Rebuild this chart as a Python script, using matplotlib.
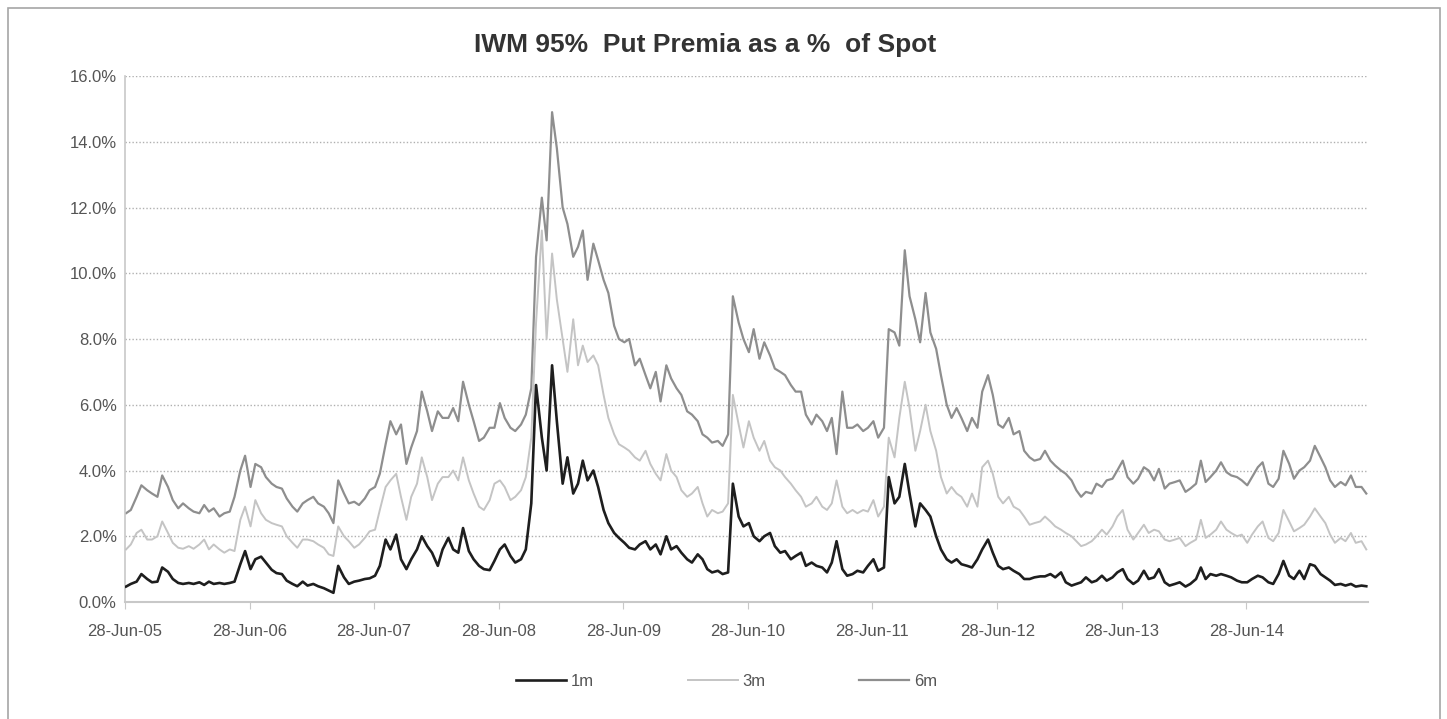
import matplotlib
matplotlib.use("Agg")
import matplotlib.pyplot as plt
import matplotlib.dates as mdates
import matplotlib.ticker as mticker
from matplotlib.patches import Rectangle
import pandas as pd

# semi-monthly observations, Jul-2005 .. Jun-2015 (values in % of spot)
dates = pd.date_range("2005-07-01", "2015-06-15", freq="SMS")

put_1m = [
    0.47, 0.55, 0.62, 0.85, 0.70, 0.60, 0.62, 1.05, 0.92, 0.70, 0.58, 0.55, 0.58, 0.55, 0.60, 0.52, 0.62, 0.55, 0.58, 0.55, 0.58, 0.62, 1.15, 1.55,
    1.00, 1.30, 1.38, 1.20, 0.98, 0.88, 0.85, 0.65, 0.55, 0.48, 0.62, 0.50, 0.55, 0.48, 0.42, 0.35, 0.28, 1.10, 0.75, 0.55, 0.62, 0.65, 0.70, 0.72,
    0.80, 1.10, 1.90, 1.60, 2.05, 1.30, 1.00, 1.30, 1.60, 2.00, 1.70, 1.50, 1.10, 1.60, 1.95, 1.60, 1.50, 2.25, 1.55, 1.30, 1.10, 1.00, 0.97, 1.25,
    1.60, 1.75, 1.40, 1.20, 1.30, 1.60, 3.00, 6.60, 5.00, 4.00, 7.20, 5.50, 3.60, 4.40, 3.30, 3.60, 4.30, 3.70, 4.00, 3.50, 2.80, 2.40, 2.10, 1.95,
    1.80, 1.65, 1.60, 1.75, 1.85, 1.60, 1.75, 1.45, 2.00, 1.60, 1.70, 1.50, 1.30, 1.20, 1.45, 1.30, 1.00, 0.90, 0.95, 0.85, 0.90, 3.60, 2.60, 2.30,
    2.40, 2.00, 1.85, 2.00, 2.10, 1.70, 1.50, 1.55, 1.30, 1.40, 1.50, 1.10, 1.20, 1.10, 1.05, 0.90, 1.20, 1.85, 1.00, 0.80, 0.85, 0.95, 0.90, 1.10,
    1.30, 0.95, 1.05, 3.80, 3.00, 3.20, 4.20, 3.30, 2.30, 3.00, 2.80, 2.60, 2.00, 1.60, 1.30, 1.20, 1.30, 1.15, 1.10, 1.05, 1.30, 1.60, 1.90, 1.50,
    1.10, 1.00, 1.05, 0.95, 0.85, 0.70, 0.70, 0.75, 0.78, 0.78, 0.85, 0.75, 0.90, 0.60, 0.50, 0.55, 0.60, 0.75, 0.60, 0.65, 0.80, 0.65, 0.75, 0.90,
    1.00, 0.70, 0.55, 0.65, 0.95, 0.70, 0.75, 1.00, 0.60, 0.50, 0.55, 0.60, 0.47, 0.55, 0.70, 1.05, 0.70, 0.85, 0.80, 0.85, 0.80, 0.75, 0.65, 0.60,
    0.60, 0.70, 0.80, 0.75, 0.60, 0.55, 0.85, 1.25, 0.80, 0.70, 0.95, 0.70, 1.15, 1.10, 0.85, 0.75, 0.65, 0.52, 0.55, 0.50, 0.55, 0.47, 0.50, 0.48,
]

put_3m = [
    1.60, 1.75, 2.10, 2.20, 1.90, 1.90, 2.00, 2.45, 2.10, 1.80, 1.65, 1.62, 1.70, 1.62, 1.75, 1.90, 1.60, 1.75, 1.60, 1.50, 1.60, 1.55, 2.50, 2.90,
    2.30, 3.10, 2.70, 2.50, 2.40, 2.35, 2.30, 2.00, 1.80, 1.65, 1.90, 1.90, 1.85, 1.75, 1.65, 1.45, 1.40, 2.30, 2.00, 1.85, 1.65, 1.75, 1.95, 2.15,
    2.20, 2.80, 3.50, 3.70, 3.90, 3.20, 2.50, 3.20, 3.60, 4.40, 3.80, 3.10, 3.60, 3.80, 3.80, 4.00, 3.70, 4.40, 3.70, 3.30, 2.90, 2.80, 3.10, 3.60,
    3.70, 3.50, 3.10, 3.20, 3.40, 3.80, 5.00, 8.50, 11.30, 8.00, 10.60, 9.20, 8.00, 7.00, 8.60, 7.20, 7.80, 7.30, 7.50, 7.20, 6.30, 5.60, 5.10, 4.80,
    4.70, 4.60, 4.40, 4.30, 4.60, 4.20, 3.90, 3.70, 4.50, 4.00, 3.80, 3.40, 3.20, 3.30, 3.50, 3.00, 2.60, 2.80, 2.70, 2.75, 3.00, 6.30, 5.40, 4.70,
    5.50, 5.00, 4.60, 4.90, 4.30, 4.10, 4.00, 3.80, 3.60, 3.40, 3.20, 2.90, 3.00, 3.20, 2.90, 2.80, 3.00, 3.70, 2.90, 2.70, 2.80, 2.70, 2.80, 2.75,
    3.10, 2.60, 2.90, 5.00, 4.40, 5.60, 6.70, 5.90, 4.60, 5.20, 6.00, 5.20, 4.60, 3.80, 3.30, 3.50, 3.30, 3.20, 2.90, 3.30, 2.90, 4.10, 4.30, 3.90,
    3.20, 3.00, 3.20, 2.90, 2.80, 2.60, 2.35, 2.40, 2.45, 2.60, 2.45, 2.30, 2.20, 2.10, 2.00, 1.85, 1.70, 1.75, 1.85, 2.00, 2.20, 2.05, 2.30, 2.60,
    2.80, 2.20, 1.90, 2.10, 2.35, 2.10, 2.20, 2.15, 1.90, 1.85, 1.90, 1.95, 1.70, 1.80, 1.90, 2.50, 1.95, 2.05, 2.20, 2.45, 2.20, 2.10, 2.00, 2.05,
    1.80, 2.05, 2.30, 2.45, 1.95, 1.85, 2.10, 2.80, 2.45, 2.15, 2.25, 2.35, 2.60, 2.85, 2.60, 2.40, 2.05, 1.80, 1.95, 1.85, 2.10, 1.80, 1.85, 1.60,
]

put_6m = [
    2.70, 2.80, 3.20, 3.55, 3.40, 3.30, 3.20, 3.85, 3.50, 3.10, 2.85, 3.00, 2.85, 2.75, 2.70, 2.95, 2.75, 2.85, 2.60, 2.70, 2.75, 3.20, 4.00, 4.45,
    3.50, 4.20, 4.10, 3.80, 3.60, 3.50, 3.45, 3.15, 2.90, 2.75, 3.00, 3.10, 3.20, 3.00, 2.90, 2.70, 2.40, 3.70, 3.30, 3.00, 3.05, 2.95, 3.15, 3.40,
    3.50, 3.90, 4.80, 5.50, 5.10, 5.40, 4.20, 4.70, 5.20, 6.40, 5.80, 5.20, 5.80, 5.60, 5.60, 5.90, 5.50, 6.70, 6.00, 5.50, 4.90, 5.00, 5.30, 5.30,
    6.05, 5.60, 5.30, 5.20, 5.40, 5.70, 6.50, 10.50, 12.30, 11.00, 14.90, 13.80, 12.00, 11.50, 10.50, 10.80, 11.30, 9.80, 10.90, 10.40, 9.80, 9.40, 8.40, 8.00,
    7.90, 8.00, 7.20, 7.40, 6.90, 6.50, 7.00, 6.10, 7.20, 6.80, 6.50, 6.30, 5.80, 5.70, 5.50, 5.10, 5.00, 4.85, 4.90, 4.75, 5.10, 9.30, 8.50, 8.00,
    7.60, 8.30, 7.40, 7.90, 7.50, 7.10, 7.00, 6.90, 6.60, 6.40, 6.40, 5.70, 5.40, 5.70, 5.50, 5.20, 5.60, 4.50, 6.40, 5.30, 5.30, 5.40, 5.20, 5.30,
    5.50, 5.00, 5.30, 8.30, 8.20, 7.80, 10.70, 9.30, 8.60, 7.90, 9.40, 8.20, 7.70, 6.90, 6.00, 5.60, 5.90, 5.60, 5.20, 5.60, 5.30, 6.40, 6.90, 6.30,
    5.40, 5.30, 5.60, 5.10, 5.20, 4.60, 4.40, 4.30, 4.35, 4.60, 4.30, 4.15, 4.00, 3.90, 3.70, 3.40, 3.20, 3.35, 3.30, 3.60, 3.50, 3.70, 3.75, 4.00,
    4.30, 3.80, 3.60, 3.75, 4.10, 4.00, 3.70, 4.05, 3.45, 3.60, 3.65, 3.70, 3.35, 3.45, 3.60, 4.30, 3.65, 3.80, 4.00, 4.25, 3.95, 3.85, 3.80, 3.70,
    3.55, 3.80, 4.10, 4.25, 3.60, 3.50, 3.75, 4.60, 4.20, 3.75, 4.00, 4.10, 4.30, 4.75, 4.40, 4.10, 3.70, 3.50, 3.65, 3.55, 3.85, 3.50, 3.50, 3.30,
]

tick_years = list(range(2005, 2015))
title = "IWM 95%  Put Premia as a %  of Spot"

plt.rcParams['font.family'] = ['Liberation Sans', 'DejaVu Sans']

fig = plt.figure(figsize=(14.47, 7.19), dpi=100)
ax = fig.add_axes([0.0864, 0.1627, 0.859, 0.7316])

# outer chart border
fig.patches.append(Rectangle((0.0055, -0.01), 0.9896, 0.999, transform=fig.transFigure,
                             fill=False, edgecolor="#a6a6a6", linewidth=1.2))

ax.plot(dates, [v / 100 for v in put_1m], color="#1e1e1e", linewidth=1.9, label="1m", zorder=4)
ax.plot(dates, [v / 100 for v in put_3m], color="#c4c4c4", linewidth=1.4, label="3m", zorder=3)
ax.plot(dates, [v / 100 for v in put_6m], color="#8e8e8e", linewidth=1.6, label="6m", zorder=2)

ax.set_ylim(0, 0.16)
ax.set_yticks([i * 0.02 for i in range(9)])
ax.yaxis.set_major_formatter(mticker.PercentFormatter(1.0, decimals=1))
ax.set_xlim(pd.Timestamp("2005-06-28"), pd.Timestamp("2015-06-20"))
ax.set_xticks([pd.Timestamp(f"{y}-06-28") for y in tick_years])
ax.xaxis.set_major_formatter(mdates.DateFormatter("%d-%b-%y"))

ax.grid(axis="y", color="#b0b0b0", linestyle=(0, (1, 1.5)), linewidth=1.0)
ax.set_axisbelow(True)
for s in ["top", "right"]:
    ax.spines[s].set_visible(False)
ax.spines["left"].set_color("#c8c8c8")
ax.spines["bottom"].set_color("#c8c8c8")
ax.spines["left"].set_linewidth(1.2)
ax.spines["bottom"].set_linewidth(1.5)
ax.tick_params(axis="x", colors="#c8c8c8", labelcolor="#555555", length=5, labelsize=12, pad=11)
ax.tick_params(axis="y", length=0, labelcolor="#555555", labelsize=12, pad=6)

fig.text(0.487, 0.938, title, ha="center", va="center", fontsize=19, fontweight="bold", color="#333333")

ax.legend(loc="upper center", bbox_to_anchor=(0.484, -0.108), ncol=3, frameon=False,
          fontsize=12, handlelength=3.0, handletextpad=0.3, columnspacing=5.6, labelcolor="#555555")

fig.savefig("out.png", dpi=100)
